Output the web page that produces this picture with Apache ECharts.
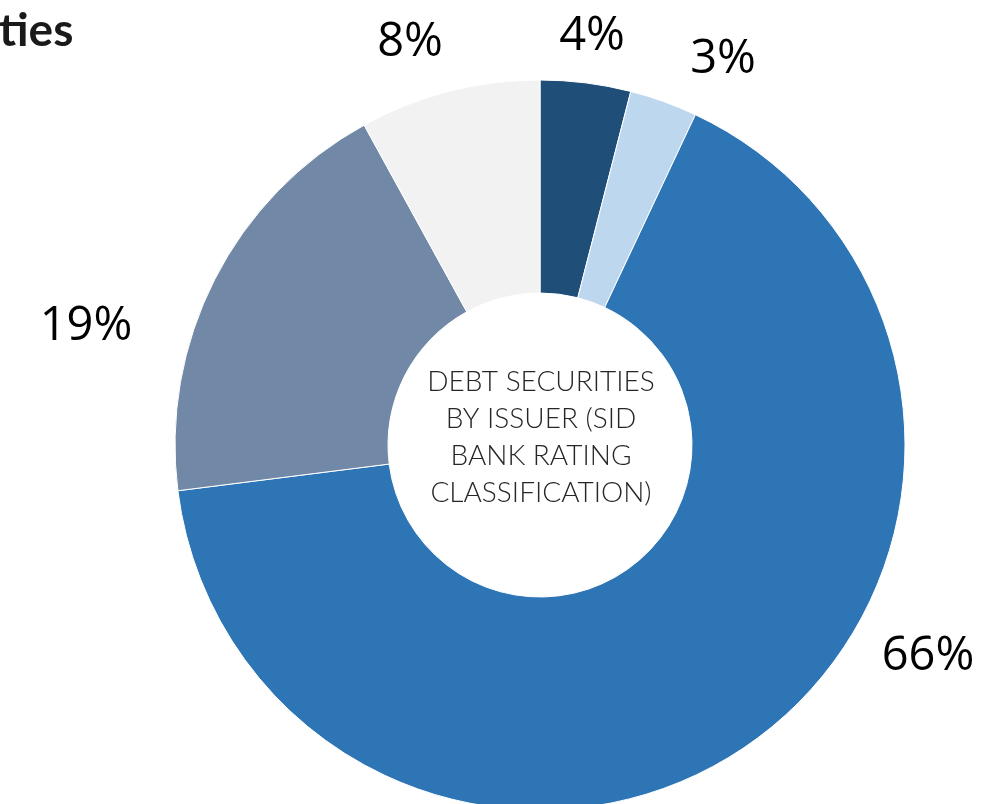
<!DOCTYPE html>
<html>
<head>
<meta charset="utf-8">
<style>
  html, body { margin: 0; padding: 0; background: #ffffff; }
  #chart { width: 1007px; height: 804px; }
</style>
<script src="https://cdn.jsdelivr.net/npm/echarts@6/dist/echarts.min.js"></script>
</head>
<body>
<div id="chart"></div>
<script>
// Debt securities by issuer, share of portfolio (%)
const categories = ['Rating group A', 'Rating group B', 'Rating group C', 'Rating group D', 'Rating group E'];
const shares = [4, 3, 66, 19, 8];
const sliceColors = ['#1F4E79', '#BDD7EE', '#2E75B6', '#7288A7', '#F2F2F2'];
const centerLabel = 'DEBT SECURITIES\nBY ISSUER (SID\nBANK RATING\nCLASSIFICATION)';
const titleText = 'ties';

// Label anchor points placed around the ring (best-fit style placement)
const labelAnchors = [
  [592, 37],
  [723, 60],
  [928, 657],
  [86, 327],
  [410, 43]
];

const chart = echarts.init(document.getElementById('chart'), null, { renderer: 'canvas' });

chart.setOption({
  backgroundColor: '#ffffff',
  animation: false,
  graphic: [
    {
      type: 'text',
      x: -1,
      y: 31,
      style: {
        text: titleText,
        fontFamily: 'Lato',
        fontWeight: 'bold',
        fontSize: 46,
        fill: '#1a1a1a',
        align: 'left',
        verticalAlign: 'middle'
      }
    },
    {
      type: 'text',
      x: 541,
      y: 437,
      z: 10,
      style: {
        text: centerLabel,
        fontFamily: 'Lato',
        fontWeight: 300,
        fontSize: 28,
        fill: '#262626',
        align: 'center',
        verticalAlign: 'middle',
        lineHeight: 37
      }
    }
  ],
  series: [
    {
      type: 'pie',
      center: [540, 445],
      radius: [152, 365],
      startAngle: 90,
      clockwise: true,
      avoidLabelOverlap: false,
      itemStyle: { borderColor: '#ffffff', borderWidth: 1 },
      label: {
        show: true,
        position: 'outside',
        formatter: p => p.value + '%',
        fontFamily: 'Open Sans',
        fontSize: 47,
        color: '#000000'
      },
      labelLine: { show: false },
      labelLayout: p => ({
        x: labelAnchors[p.dataIndex][0],
        y: labelAnchors[p.dataIndex][1],
        align: 'center',
        verticalAlign: 'middle'
      }),
      emphasis: { disabled: true },
      data: categories.map((name, i) => ({
        name: name,
        value: shares[i],
        itemStyle: { color: sliceColors[i] }
      }))
    }
  ]
});
</script>
</body>
</html>
